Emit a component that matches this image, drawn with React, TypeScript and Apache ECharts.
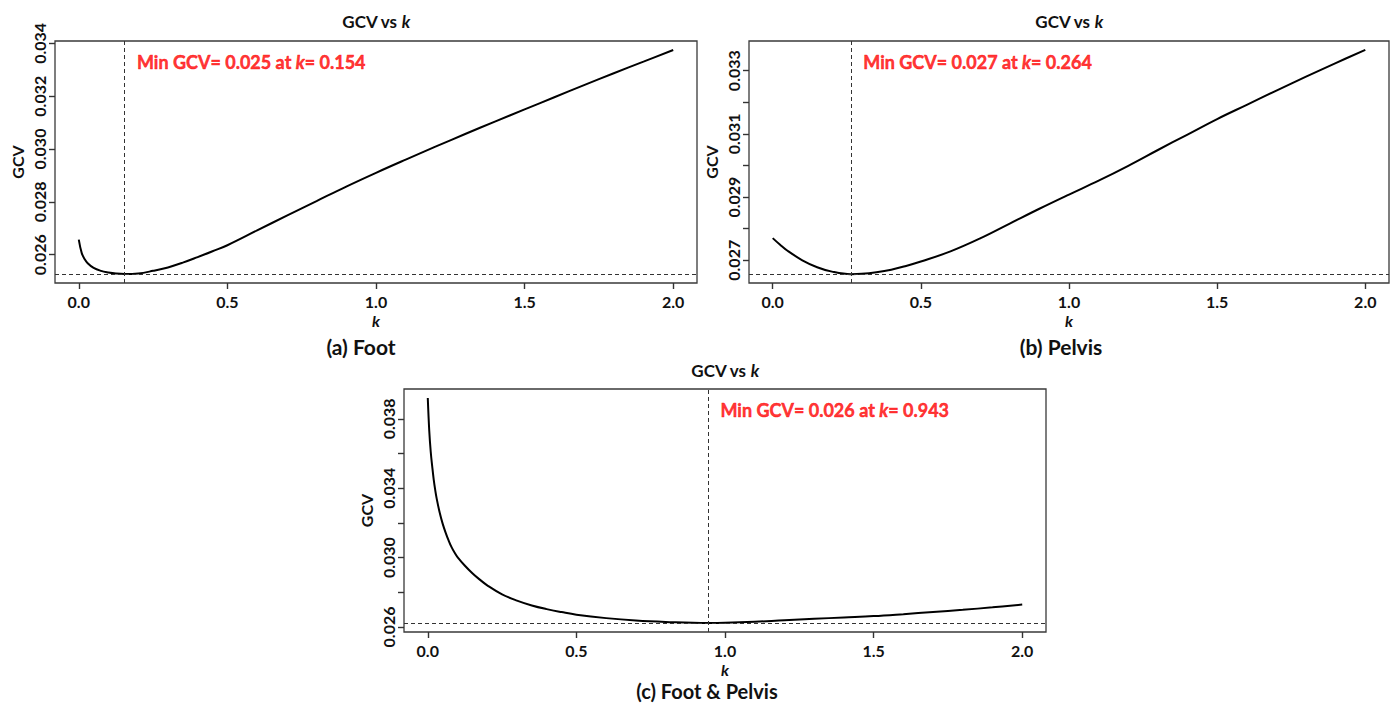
import React, { useEffect, useRef } from 'react';
import * as echarts from 'echarts';

// ---------- data ----------
const kFoot = [0, 0.01, 0.02, 0.03, 0.05, 0.075, 0.1, 0.125, 0.154, 0.2, 0.25, 0.3, 0.35, 0.4, 0.45, 0.5, 0.6, 0.7, 0.8, 0.9, 1.0, 1.1, 1.2, 1.3, 1.4, 1.5, 1.6, 1.7, 1.8, 1.9, 2.0];
const gcvFoot = [0.02657, 0.02606, 0.02583, 0.02568, 0.0255, 0.02539, 0.02533, 0.02529, 0.02527, 0.02529, 0.02539, 0.02552, 0.0257, 0.02591, 0.02613, 0.02636, 0.02692, 0.02748, 0.02803, 0.02858, 0.0291, 0.0296, 0.03009, 0.03057, 0.03104, 0.0315, 0.03196, 0.03242, 0.03287, 0.03331, 0.03375];

const kPelvis = [0, 0.025, 0.05, 0.1, 0.15, 0.2, 0.264, 0.3, 0.35, 0.4, 0.45, 0.5, 0.6, 0.7, 0.8, 0.9, 1.0, 1.1, 1.2, 1.3, 1.4, 1.5, 1.6, 1.7, 1.8, 1.9, 2.0];
const gcvPelvis = [0.0277, 0.02749, 0.0273, 0.027, 0.02678, 0.02664, 0.02656, 0.02657, 0.02662, 0.0267, 0.02682, 0.02696, 0.02728, 0.02769, 0.02816, 0.02863, 0.02908, 0.02952, 0.02999, 0.03049, 0.03098, 0.03147, 0.03192, 0.03237, 0.03281, 0.03324, 0.03366];

const kBoth = [0, 0.005, 0.01, 0.015, 0.02, 0.025, 0.03, 0.04, 0.05, 0.06, 0.07, 0.08, 0.09, 0.1, 0.125, 0.15, 0.175, 0.2, 0.25, 0.3, 0.35, 0.4, 0.45, 0.5, 0.6, 0.7, 0.8, 0.943, 1.0, 1.1, 1.2, 1.3, 1.4, 1.5, 1.6, 1.7, 1.8, 1.9, 2.0];
const gcvBoth = [0.0392, 0.0373, 0.03609, 0.03525, 0.0345, 0.0339, 0.0334, 0.0326, 0.03196, 0.03144, 0.03099, 0.0306, 0.03029, 0.03003, 0.02953, 0.0291, 0.02873, 0.0284, 0.02788, 0.02752, 0.02724, 0.02703, 0.02686, 0.02671, 0.02651, 0.02637, 0.02629, 0.02623, 0.02624, 0.0263, 0.02639, 0.02647, 0.02655, 0.02663, 0.02674, 0.02686, 0.02699, 0.02713, 0.02729];

const kOpt = [0.154, 0.264, 0.943];
const minGcv = [0.02527, 0.02656, 0.02623];

const xTicks = [0, 0.5, 1.0, 1.5, 2.0];
const yTicksFoot = [0.026, 0.028, 0.030, 0.032, 0.034];
const yLabelsFoot = [0.026, 0.028, 0.030, 0.032, 0.034];
const yTicksPelvis = [0.027, 0.028, 0.029, 0.030, 0.031, 0.032, 0.033];
const yLabelsPelvis = [0.027, 0.029, 0.031, 0.033];
const yTicksBoth = [0.026, 0.028, 0.030, 0.032, 0.034, 0.036, 0.038];
const yLabelsBoth = [0.026, 0.030, 0.034, 0.038];

const captions = ['(a) Foot', '(b) Pelvis', '(c) Foot & Pelvis'];

// ---------- layout ----------
const FONT = 'Lato';
const INK = '#111';
const RED = '#ff0000';
const TICK_COLOR = '#333';
const TICK_LEN = 6;
const panels = [
  { k: kFoot, g: gcvFoot, yTicks: yTicksFoot, yLabels: yLabelsFoot, grid: { left: 55, top: 41, width: 642, height: 242 }, yMin: 0.02493, yMax: 0.03409, xMin: -0.08, xMax: 2.08, titleY: 21, capX: 361, capY: 346, capSize: 21 },
  { k: kPelvis, g: gcvPelvis, yTicks: yTicksPelvis, yLabels: yLabelsPelvis, grid: { left: 749, top: 41, width: 640, height: 242 }, yMin: 0.02628, yMax: 0.03394, xMin: -0.08, xMax: 2.08, titleY: 21, capX: 1061, capY: 346, capSize: 21 },
  { k: kBoth, g: gcvBoth, yTicks: yTicksBoth, yLabels: yLabelsBoth, grid: { left: 404, top: 389, width: 642, height: 243 }, yMin: 0.02571, yMax: 0.03972, xMin: -0.08, xMax: 2.08, titleY: 370, capX: 707, capY: 691, capSize: 20 },
];

function buildOption() {
  const grids: any[] = [];
  const xAxes: any[] = [];
  const yAxes: any[] = [];
  const series: any[] = [];
  const graphics: any[] = [];

  panels.forEach((p, i) => {
    grids.push({
      ...p.grid,
      show: true,
      borderColor: '#3a3a3a',
      borderWidth: 1.3,
      backgroundColor: '#fff',
      containLabel: false,
      outerBoundsMode: 'none',
    });
    xAxes.push({
      type: 'value',
      gridIndex: i,
      min: p.xMin,
      max: p.xMax,
      position: 'bottom',
      axisLine: { show: false, onZero: false },
      splitLine: { show: false },
      axisTick: { show: true, inside: false, customValues: xTicks, length: TICK_LEN, lineStyle: { color: TICK_COLOR, width: 1.4 } },
      axisLabel: {
        show: true,
        customValues: xTicks,
        formatter: (v: number) => v.toFixed(1),
        margin: 10,
        fontSize: 16,
        fontWeight: 'bold',
        color: INK,
        fontFamily: FONT,
      },
      name: 'k',
      nameLocation: 'middle',
      nameGap: 29,
      nameTextStyle: { fontSize: 16, fontWeight: 'bold', fontStyle: 'italic', color: INK, fontFamily: FONT },
    });
    yAxes.push({
      type: 'value',
      gridIndex: i,
      min: p.yMin,
      max: p.yMax,
      position: 'left',
      axisLine: { show: false, onZero: false },
      splitLine: { show: false },
      axisTick: { show: true, inside: false, customValues: p.yTicks, length: TICK_LEN, lineStyle: { color: TICK_COLOR, width: 1.4 } },
      axisLabel: {
        show: true,
        customValues: p.yLabels,
        formatter: (v: number) => v.toFixed(3),
        rotate: 90,
        margin: 8,
        fontSize: 16,
        fontWeight: 'bold',
        color: INK,
        fontFamily: FONT,
      },
      name: 'GCV',
      nameLocation: 'middle',
      nameGap: 30,
      nameTextStyle: { fontSize: 16, fontWeight: 'bold', color: INK, fontFamily: FONT },
    });

    series.push({
      type: 'line',
      xAxisIndex: i,
      yAxisIndex: i,
      data: p.k.map((k, j) => [k, p.g[j]]),
      showSymbol: false,
      symbol: 'none',
      smooth: 0.4,
      lineStyle: { color: '#000', width: 2 },
      silent: true,
      markLine: {
        silent: true,
        precision: 10,
        symbol: ['none', 'none'],
        label: { show: false },
        lineStyle: { type: [4, 3], color: '#333', width: 1 },
        data: [{ xAxis: kOpt[i] }, { yAxis: minGcv[i] }],
      },
    });

    const txtK = kOpt[i] + 0.04;
    const txtY = p.yMax - 0.088 * (p.yMax - p.yMin);
    series.push({
      type: 'scatter',
      xAxisIndex: i,
      yAxisIndex: i,
      data: [[txtK, txtY]],
      symbolSize: 1,
      itemStyle: { color: 'rgba(0,0,0,0)' },
      silent: true,
      label: {
        show: true,
        position: 'right',
        distance: 0,
        formatter: `{r|Min GCV= ${minGcv[i].toFixed(3)} at }{i|k}{r|= ${kOpt[i].toFixed(3)}}`,
        rich: {
          r: { color: RED, fontSize: 18, fontWeight: 'bold', fontFamily: FONT, textBorderColor: RED, textBorderWidth: 0.5 },
          i: { color: RED, fontSize: 18, fontWeight: 'bold', fontStyle: 'italic', fontFamily: FONT, textBorderColor: RED, textBorderWidth: 0.5 },
        },
      },
    });

    const cx = p.grid.left + p.grid.width / 2;
    graphics.push({
      type: 'text',
      x: cx,
      y: p.titleY,
      style: {
        text: '{n|GCV vs }{i|k}',
        align: 'center',
        verticalAlign: 'middle',
        rich: {
          n: { fontSize: 17, fontWeight: 'bold', fill: INK, fontFamily: FONT },
          i: { fontSize: 17, fontWeight: 'bold', fontStyle: 'italic', fill: INK, fontFamily: FONT },
        },
      },
    });
    graphics.push({
      type: 'text',
      x: p.capX,
      y: p.capY,
      style: {
        text: captions[i],
        align: 'center',
        verticalAlign: 'middle',
        fontSize: p.capSize,
        fontWeight: 'bold',
        fill: INK,
        fontFamily: FONT,
      },
    });
  });

  return {
    animation: false,
    backgroundColor: '#fff',
    textStyle: { fontFamily: FONT },
    grid: grids,
    xAxis: xAxes,
    yAxis: yAxes,
    series,
    graphic: graphics,
  };
}

export default function App() {
  const ref = useRef<HTMLDivElement>(null);
  useEffect(() => {
    if (!ref.current) return;
    const chart = echarts.init(ref.current, undefined, { renderer: 'svg' });
    chart.setOption(buildOption() as any);
    return () => chart.dispose();
  }, []);
  return (
    <div
      ref={ref}
      style={{ position: 'absolute', left: 0, top: 0, width: 1395, height: 704, background: '#fff' }}
    />
  );
}
